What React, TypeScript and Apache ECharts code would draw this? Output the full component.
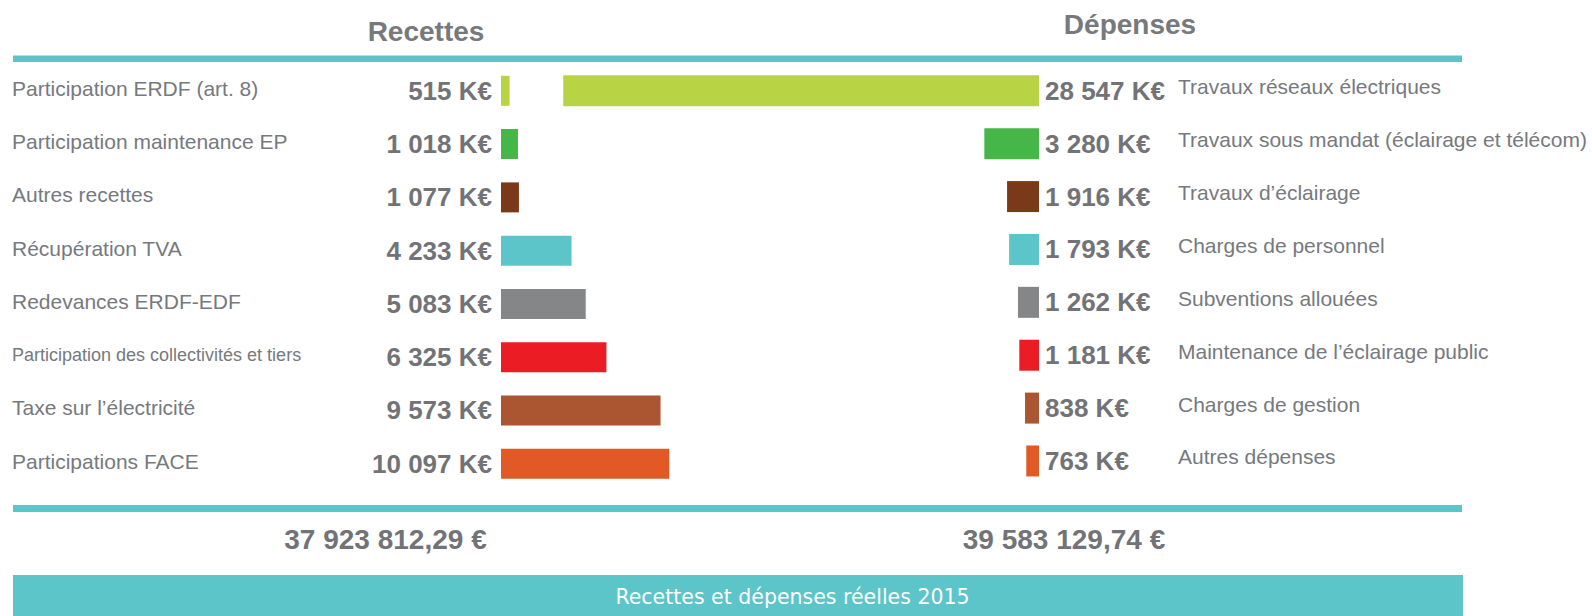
import React, { useEffect, useRef } from "react";
import * as echarts from "echarts";

const recettesLabels = [
  "Participation ERDF (art. 8)",
  "Participation maintenance EP",
  "Autres recettes",
  "Récupération TVA",
  "Redevances ERDF-EDF",
  "Participation des collectivités et tiers",
  "Taxe sur l’électricité",
  "Participations FACE",
];
const recettesValues = [515, 1018, 1077, 4233, 5083, 6325, 9573, 10097];

const depensesLabels = [
  "Travaux réseaux électriques",
  "Travaux sous mandat (éclairage et télécom)",
  "Travaux d’éclairage",
  "Charges de personnel",
  "Subventions allouées",
  "Maintenance de l’éclairage public",
  "Charges de gestion",
  "Autres dépenses",
];
const depensesValues = [28547, 3280, 1916, 1793, 1262, 1181, 838, 763];

const barColors = [
  "#b8d444",
  "#46b649",
  "#7a3a1a",
  "#5bc5c9",
  "#858688",
  "#ec1c24",
  "#ab5531",
  "#e15a26",
];

const totalRecettes = "37 923 812,29 €";
const totalDepenses = "39 583 129,74 €";
const titleRecettes = "Recettes";
const titleDepenses = "Dépenses";
const footer = "Recettes et dépenses réelles 2015";

const fmt = (v: number) =>
  String(v).replace(/\B(?=(\d{3})+(?!\d))/g, " ") + " K€";

const TEAL = "#5bc5c9";
const TITLE_COLOR = "#77797d";
const VALUE_COLOR = "#727377";
const LABEL_COLOR = "#76797e";
const FONT = "'Liberation Sans', Arial, sans-serif";

export default function App() {
  const ref = useRef<HTMLDivElement>(null);
  useEffect(() => {
    document.body.style.margin = "0";
    const chart = echarts.init(ref.current!, undefined, { renderer: "svg" });
    const scaleMax1 = 18000;
    const scaleMax2 = 32400;
    const option: any = {
      animation: false,
      backgroundColor: "#ffffff",
      grid: [
        { left: 501, width: scaleMax1 / 60, top: 64.2, height: 426.2 },
        { left: 1039 - scaleMax2 / 60, width: scaleMax2 / 60, top: 64.4, height: 423 },
      ],
      xAxis: [
        { type: "value", gridIndex: 0, min: 0, max: scaleMax1, show: false },
        { type: "value", gridIndex: 1, min: 0, max: scaleMax2, inverse: true, show: false },
      ],
      yAxis: [
        {
          type: "category",
          gridIndex: 0,
          inverse: true,
          data: recettesLabels,
          axisLine: { show: false },
          axisTick: { show: false },
          splitLine: { show: false },
          axisLabel: {
            align: "left",
            margin: 489,
            padding: [0, 0, 5, 0],
            formatter: (v: string) =>
              v.length > 35 ? "{s|" + v + "}" : "{n|" + v + "}",
            rich: {
              n: { fontSize: 21, color: LABEL_COLOR, fontFamily: FONT },
              s: { fontSize: 18, color: LABEL_COLOR, fontFamily: FONT },
            },
          },
        },
        {
          type: "category",
          gridIndex: 1,
          inverse: true,
          position: "right",
          data: depensesLabels,
          axisLine: { show: false },
          axisTick: { show: false },
          splitLine: { show: false },
          axisLabel: {
            align: "left",
            verticalAlign: "bottom",
            lineHeight: 8,
            margin: 139,
            fontSize: 21,
            color: LABEL_COLOR,
            fontFamily: FONT,
          },
        },
      ],
      series: [
        {
          type: "bar",
          xAxisIndex: 0,
          yAxisIndex: 0,
          barWidth: 30,
          data: recettesValues.map((v, i) => ({
            value: v,
            itemStyle: { color: barColors[i] },
          })),
          label: {
            show: true,
            position: "left",
            distance: 9,
            formatter: (p: any) => fmt(p.value),
            fontSize: 26,
            fontWeight: "bold",
            color: VALUE_COLOR,
            fontFamily: FONT,
          },
        },
        {
          type: "bar",
          xAxisIndex: 1,
          yAxisIndex: 1,
          barWidth: 31,
          data: depensesValues.map((v, i) => ({
            value: v,
            itemStyle: { color: barColors[i] },
          })),
          label: {
            show: true,
            position: "right",
            distance: 6,
            formatter: (p: any) => fmt(p.value),
            fontSize: 26,
            fontWeight: "bold",
            color: VALUE_COLOR,
            fontFamily: FONT,
          },
        },
      ],
      graphic: [
        {
          type: "text",
          x: 426,
          y: 31,
          style: {
            text: titleRecettes,
            fill: TITLE_COLOR,
            font: `bold 28px ${FONT}`,
            textAlign: "center",
            textVerticalAlign: "middle",
          },
        },
        {
          type: "text",
          x: 1130,
          y: 24.5,
          style: {
            text: titleDepenses,
            fill: TITLE_COLOR,
            font: `bold 28px ${FONT}`,
            textAlign: "center",
            textVerticalAlign: "middle",
          },
        },
        { type: "rect", shape: { x: 13, y: 55.5, width: 1449, height: 6.5 }, style: { fill: TEAL } },
        { type: "rect", shape: { x: 13, y: 505, width: 1449, height: 7 }, style: { fill: TEAL } },
        {
          type: "text",
          x: 385.5,
          y: 539,
          style: {
            text: totalRecettes,
            fill: VALUE_COLOR,
            font: `bold 28px ${FONT}`,
            textAlign: "center",
            textVerticalAlign: "middle",
          },
        },
        {
          type: "text",
          x: 1064,
          y: 539,
          style: {
            text: totalDepenses,
            fill: VALUE_COLOR,
            font: `bold 28px ${FONT}`,
            textAlign: "center",
            textVerticalAlign: "middle",
          },
        },
        { type: "rect", shape: { x: 13, y: 575, width: 1450, height: 41 }, style: { fill: TEAL } },
        {
          type: "text",
          x: 792.5,
          y: 597,
          style: {
            text: footer,
            fill: "#ffffff",
            font: `20.5px 'DejaVu Sans', sans-serif`,
            textAlign: "center",
            textVerticalAlign: "middle",
          },
        },
      ],
    };
    chart.setOption(option);
    return () => chart.dispose();
  }, []);
  return (
    <div
      ref={ref}
      style={{ position: "absolute", left: 0, top: 0, width: 1592, height: 616 }}
    />
  );
}
